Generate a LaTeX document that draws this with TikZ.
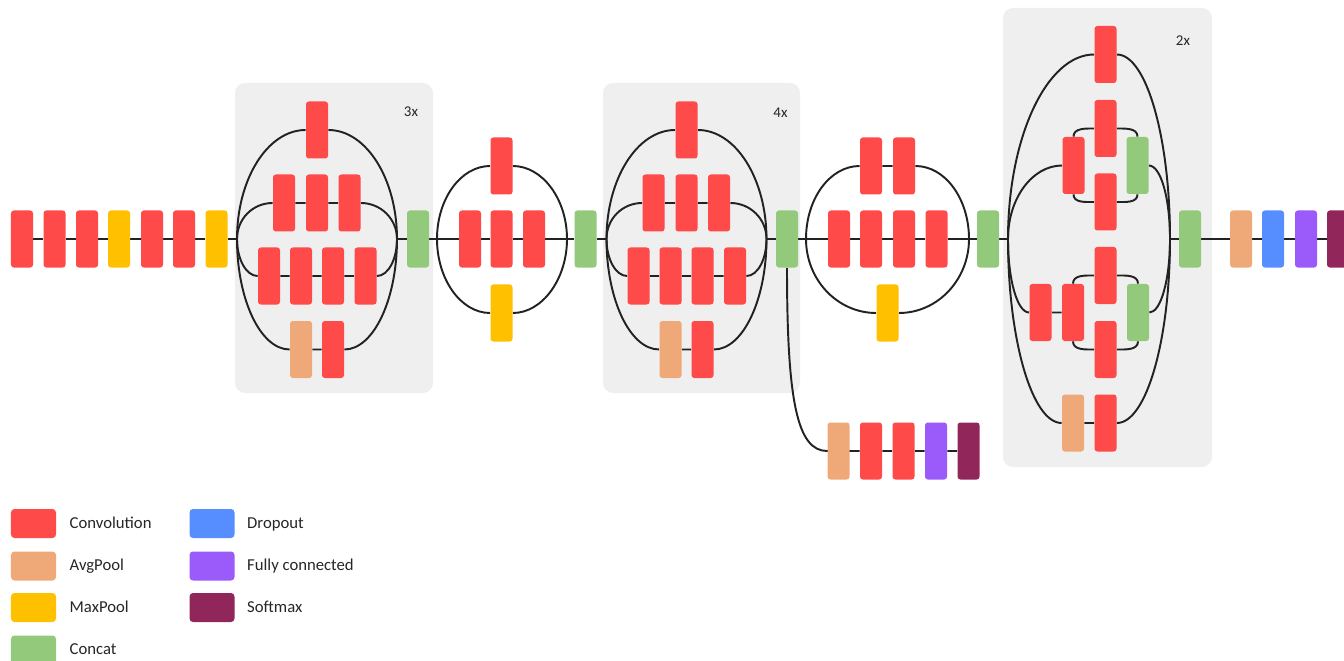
\documentclass[tikz,border=0pt]{standalone}
\usepackage{fontspec}
\setmainfont{Carlito}
\usetikzlibrary{calc,positioning,backgrounds}

\definecolor{convred}{RGB}{255,74,74}
\definecolor{avgpeach}{RGB}{239,168,120}
\definecolor{maxyellow}{RGB}{255,192,0}
\definecolor{concatgreen}{RGB}{147,201,123}
\definecolor{dropblue}{RGB}{86,141,255}
\definecolor{fcpurple}{RGB}{155,90,250}
\definecolor{softmaxplum}{RGB}{145,38,90}
\definecolor{modulegray}{RGB}{239,239,239}
\definecolor{wiregray}{RGB}{34,34,34}

\tikzset{
  layer/.style={rectangle, rounded corners=1.6pt, inner sep=0pt,
                minimum width=4.4mm, minimum height=11.4mm},
  conv/.style={layer, fill=convred},
  avgpool/.style={layer, fill=avgpeach},
  maxpool/.style={layer, fill=maxyellow},
  concat/.style={layer, fill=concatgreen},
  dropout/.style={layer, fill=dropblue},
  fullconn/.style={layer, fill=fcpurple},
  softmax/.style={layer, fill=softmaxplum},
  branch/.style={draw=wiregray, line width=1.1pt},
  sweep/.style 2 args={out distance=#1, in distance=#2},
  module/.style={fill=modulegray, rounded corners=2mm},
  replabel/.style={font=\fontsize{8.5}{10}\selectfont, text=black!85},
  keybox/.style={rectangle, rounded corners=2pt, minimum width=9mm, minimum height=5.8mm},
  keytext/.style={anchor=west, inner sep=0pt, text height=1.6ex, text depth=0.45ex,
                  font=\fontsize{9.5}{11}\selectfont, text=black!85}
}

\begin{document}
\begin{tikzpicture}[x=0.2mm, y=0.2mm]

\useasboundingbox (0,0) rectangle (1344,660);

% Stem
\node[conv]    (stem1) at (22,421) {};
\node[conv]    (stem2) at (54.5,421) {};
\node[conv]    (stem3) at (87,421) {};
\node[maxpool] (stem4) at (119,421) {};
\node[conv]    (stem5) at (152,421) {};
\node[conv]    (stem6) at (184,421) {};
\node[maxpool] (stem7) at (216.5,421) {};

% Inception module A (3x)
\coordinate (aIn) at (237,421);
\coordinate (aOut) at (397,421);
\node[conv] (aTop) at (317,530) {};
\node[conv] (aRow1a) at (284,457) {};
\node[conv] (aRow1b) at (317,457) {};
\node[conv] (aRow1c) at (349.5,457) {};
\node[conv] (aRow2a) at (269,384) {};
\node[conv] (aRow2b) at (301,384) {};
\node[conv] (aRow2c) at (333,384) {};
\node[conv] (aRow2d) at (365.5,384) {};
\node[avgpool] (aPool) at (301,310.5) {};
\node[conv] (aLast) at (333,310.5) {};
\node[concat] (catA) at (418,421) {};
\node[replabel] (repA) at (411,548) {3x};

% Reduction A
\coordinate (rAIn) at (437,421);
\coordinate (rAOut) at (567,421);
\node[conv] (rATop) at (501.5,494) {};
\node[conv] (rAMid1) at (470,421) {};
\node[conv] (rAMid2) at (501.5,421) {};
\node[conv] (rAMid3) at (534,421) {};
\node[maxpool] (rAPool) at (501.5,347) {};
\node[concat] (catRA) at (585.5,421) {};

% Inception module B (4x), same layout as A
\coordinate (bIn) at ($(aIn)+(369.5,0)$);
\coordinate (bOut) at ($(aOut)+(369.5,0)$);
\node[conv] (bTop) at ($(aTop)+(369.5,0)$) {};
\node[conv] (bRow1a) at ($(aRow1a)+(369.5,0)$) {};
\node[conv] (bRow1b) at ($(aRow1b)+(369.5,0)$) {};
\node[conv] (bRow1c) at ($(aRow1c)+(369.5,0)$) {};
\node[conv] (bRow2a) at ($(aRow2a)+(369.5,0)$) {};
\node[conv] (bRow2b) at ($(aRow2b)+(369.5,0)$) {};
\node[conv] (bRow2c) at ($(aRow2c)+(369.5,0)$) {};
\node[conv] (bRow2d) at ($(aRow2d)+(369.5,0)$) {};
\node[avgpool] (bPool) at ($(aPool)+(369.5,0)$) {};
\node[conv] (bLast) at ($(aLast)+(369.5,0)$) {};
\node[concat] (catB) at (787,421) {};
\node[replabel] (repB) at (780.5,547) {4x};

% Auxiliary classifier
\node[avgpool] (auxPool) at (838.5,209) {};
\node[conv] (auxConv1) at (871,209) {};
\node[conv] (auxConv2) at (903.5,209) {};
\node[fullconn] (auxFc) at (936,209) {};
\node[softmax] (auxSoft) at (968.5,209) {};

% Reduction B
\coordinate (rBIn) at (806,421);
\coordinate (rBOut) at (969,421);
\node[conv] (rBTop1) at (871,494) {};
\node[conv] (rBTop2) at (904,494) {};
\node[conv] (rBMid1) at (839,421) {};
\node[conv] (rBMid2) at (871,421) {};
\node[conv] (rBMid3) at (904,421) {};
\node[conv] (rBMid4) at (936.5,421) {};
\node[maxpool] (rBPool) at (887.5,347) {};
\node[concat] (catRB) at (988,421) {};

% Inception module C (2x)
\coordinate (cIn) at (1008,421);
\coordinate (cOut) at (1170,421);
\node[conv] (cTop) at (1105.5,605.5) {};
\node[conv] (cL1) at (1073.5,494.5) {};
\node[conv] (cU1) at (1105.5,531.5) {};
\node[conv] (cU2) at (1105.5,458) {};
\node[concat] (cG1) at (1137.5,494.5) {};
\node[conv] (cL2a) at (1040.5,347.5) {};
\node[conv] (cL2b) at (1073,347.5) {};
\node[conv] (cD1) at (1105.5,384.5) {};
\node[conv] (cD2) at (1105.5,310.5) {};
\node[concat] (cG2) at (1138,347.5) {};
\node[avgpool] (cPool) at (1073,237) {};
\node[conv] (cLast) at (1105.5,237) {};
\node[concat] (catC) at (1190,421) {};
\node[replabel] (repC) at (1183,619) {2x};

% Head
\node[avgpool] (headPool) at (1241,421) {};
\node[dropout] (headDrop) at (1273,421) {};
\node[fullconn] (headFc) at (1306,421) {};
\node[softmax] (headSoft) at (1338,421) {};

% Key
\node[keybox, fill=convred] (keyConv) at (33.5,136.5) {};
\node[keytext, right=2.6mm of keyConv] (keyConvText) {Convolution};
\node[keybox, fill=avgpeach] (keyAvg) at (33.5,94) {};
\node[keytext, right=2.6mm of keyAvg] (keyAvgText) {AvgPool};
\node[keybox, fill=maxyellow] (keyMax) at (33.5,52.5) {};
\node[keytext, right=2.6mm of keyMax] (keyMaxText) {MaxPool};
\node[keybox, fill=concatgreen] (keyCat) at (33.5,10) {};
\node[keytext, right=2.6mm of keyCat] (keyCatText) {Concat};
\node[keybox, fill=dropblue] (keyDrop) at (212,136.5) {};
\node[keytext, right=2.4mm of keyDrop] (keyDropText) {Dropout};
\node[keybox, fill=fcpurple] (keyFc) at (212,94) {};
\node[keytext, right=2.4mm of keyFc] (keyFcText) {Fully connected};
\node[keybox, fill=softmaxplum] (keySoft) at (212,52.5) {};
\node[keytext, right=2.4mm of keySoft] (keySoftText) {Softmax};

\begin{scope}[on background layer]
% Grey panels behind the repeated modules
\fill[module] (235,267) rectangle (433,577);
\fill[module] (603,267) rectangle (800,577);
\fill[module] (1003,193) rectangle (1212,652);

% Trunk
\draw[branch] (stem1) -- (stem2) -- (stem3) -- (stem4) -- (stem5) -- (stem6) -- (stem7) -- (aIn);
\draw[branch] (aOut) -- (catA) -- (rAIn);
\draw[branch] (rAOut) -- (catRA) -- (bIn);
\draw[branch] (bOut) -- (catB) -- (rBIn);
\draw[branch] (rBOut) -- (catRB) -- (cIn);
\draw[branch] (cOut) -- (catC) -- (headPool) -- (headDrop) -- (headFc) -- (headSoft);

% Module A branches
\draw[branch] (aIn) to[out=90,in=180,sweep={12mm}{7.6mm}] (aTop)
    to[out=0,in=90,sweep={7.6mm}{12mm}] (aOut);
\draw[branch] (aIn) to[out=90,in=180,sweep={4mm}{4mm}] (aRow1a) -- (aRow1b) -- (aRow1c)
    to[out=0,in=90,sweep={4mm}{4mm}] (aOut);
\draw[branch] (aIn) to[out=-90,in=180,sweep={4mm}{2.3mm}] (aRow2a) -- (aRow2b) -- (aRow2c) -- (aRow2d)
    to[out=0,in=-90,sweep={2.3mm}{4mm}] (aOut);
\draw[branch] (aIn) to[out=-90,in=180,sweep={12.2mm}{5.8mm}] (aPool) -- (aLast)
    to[out=0,in=-90,sweep={5.8mm}{12.2mm}] (aOut);

% Reduction A branches
\draw[branch] (rAIn) to[out=90,in=180,sweep={8mm}{5.9mm}] (rATop)
    to[out=0,in=90,sweep={5.9mm}{8mm}] (rAOut);
\draw[branch] (rAIn) -- (rAMid1) -- (rAMid2) -- (rAMid3) -- (rAOut);
\draw[branch] (rAIn) to[out=-90,in=180,sweep={8mm}{5.9mm}] (rAPool)
    to[out=0,in=-90,sweep={5.9mm}{8mm}] (rAOut);

% Module B branches
\draw[branch] (bIn) to[out=90,in=180,sweep={12mm}{7.6mm}] (bTop)
    to[out=0,in=90,sweep={7.6mm}{12mm}] (bOut);
\draw[branch] (bIn) to[out=90,in=180,sweep={4mm}{4mm}] (bRow1a) -- (bRow1b) -- (bRow1c)
    to[out=0,in=90,sweep={4mm}{4mm}] (bOut);
\draw[branch] (bIn) to[out=-90,in=180,sweep={4mm}{2.3mm}] (bRow2a) -- (bRow2b) -- (bRow2c) -- (bRow2d)
    to[out=0,in=-90,sweep={2.3mm}{4mm}] (bOut);
\draw[branch] (bIn) to[out=-90,in=180,sweep={12.2mm}{5.8mm}] (bPool) -- (bLast)
    to[out=0,in=-90,sweep={5.8mm}{12.2mm}] (bOut);

% Auxiliary head hangs off the concat after module B
\draw[branch] (catB.south) .. controls +(0,-133) and +(-30,0) .. (auxPool.west)
    -- (auxConv1) -- (auxConv2) -- (auxFc) -- (auxSoft);

% Reduction B branches
\draw[branch] (rBIn) to[out=90,in=180,sweep={8mm}{6mm}] (rBTop1) -- (rBTop2)
    to[out=0,in=90,sweep={6mm}{8mm}] (rBOut);
\draw[branch] (rBIn) -- (rBMid1) -- (rBMid2) -- (rBMid3) -- (rBMid4) -- (rBOut);
\draw[branch] (rBIn) to[out=-90,in=180,sweep={8.1mm}{7.8mm}] (rBPool)
    to[out=0,in=-90,sweep={7.8mm}{8.1mm}] (rBOut);

% Module C branches
\draw[branch] (cIn) to[out=90,in=180,sweep={20.3mm}{9.5mm}] (cTop)
    to[out=0,in=90,sweep={5.9mm}{20.3mm}] (cOut);
\draw[branch] (cIn) to[out=90,in=180,sweep={8.1mm}{6mm}] (cL1);
\draw[branch] (cL1.north) to[out=90,in=180] (cU1) to[out=0,in=90] (cG1.north);
\draw[branch] (cL1.south) to[out=-90,in=180] (cU2) to[out=0,in=-90] (cG1.south);
\draw[branch] (cG1) to[out=0,in=90,sweep={2.4mm}{8.1mm}] (cOut);
\draw[branch] (cIn) to[out=-90,in=180,sweep={8.1mm}{2.4mm}] (cL2a) -- (cL2b);
\draw[branch] (cL2b.north) to[out=90,in=180] (cD1) to[out=0,in=90] (cG2.north);
\draw[branch] (cL2b.south) to[out=-90,in=180] (cD2) to[out=0,in=-90] (cG2.south);
\draw[branch] (cG2) to[out=0,in=-90,sweep={2.3mm}{8.1mm}] (cOut);
\draw[branch] (cIn) to[out=-90,in=180,sweep={20.2mm}{5.9mm}] (cPool) -- (cLast)
    to[out=0,in=-90,sweep={5.9mm}{20.2mm}] (cOut);
\end{scope}

\end{tikzpicture}
\end{document}
